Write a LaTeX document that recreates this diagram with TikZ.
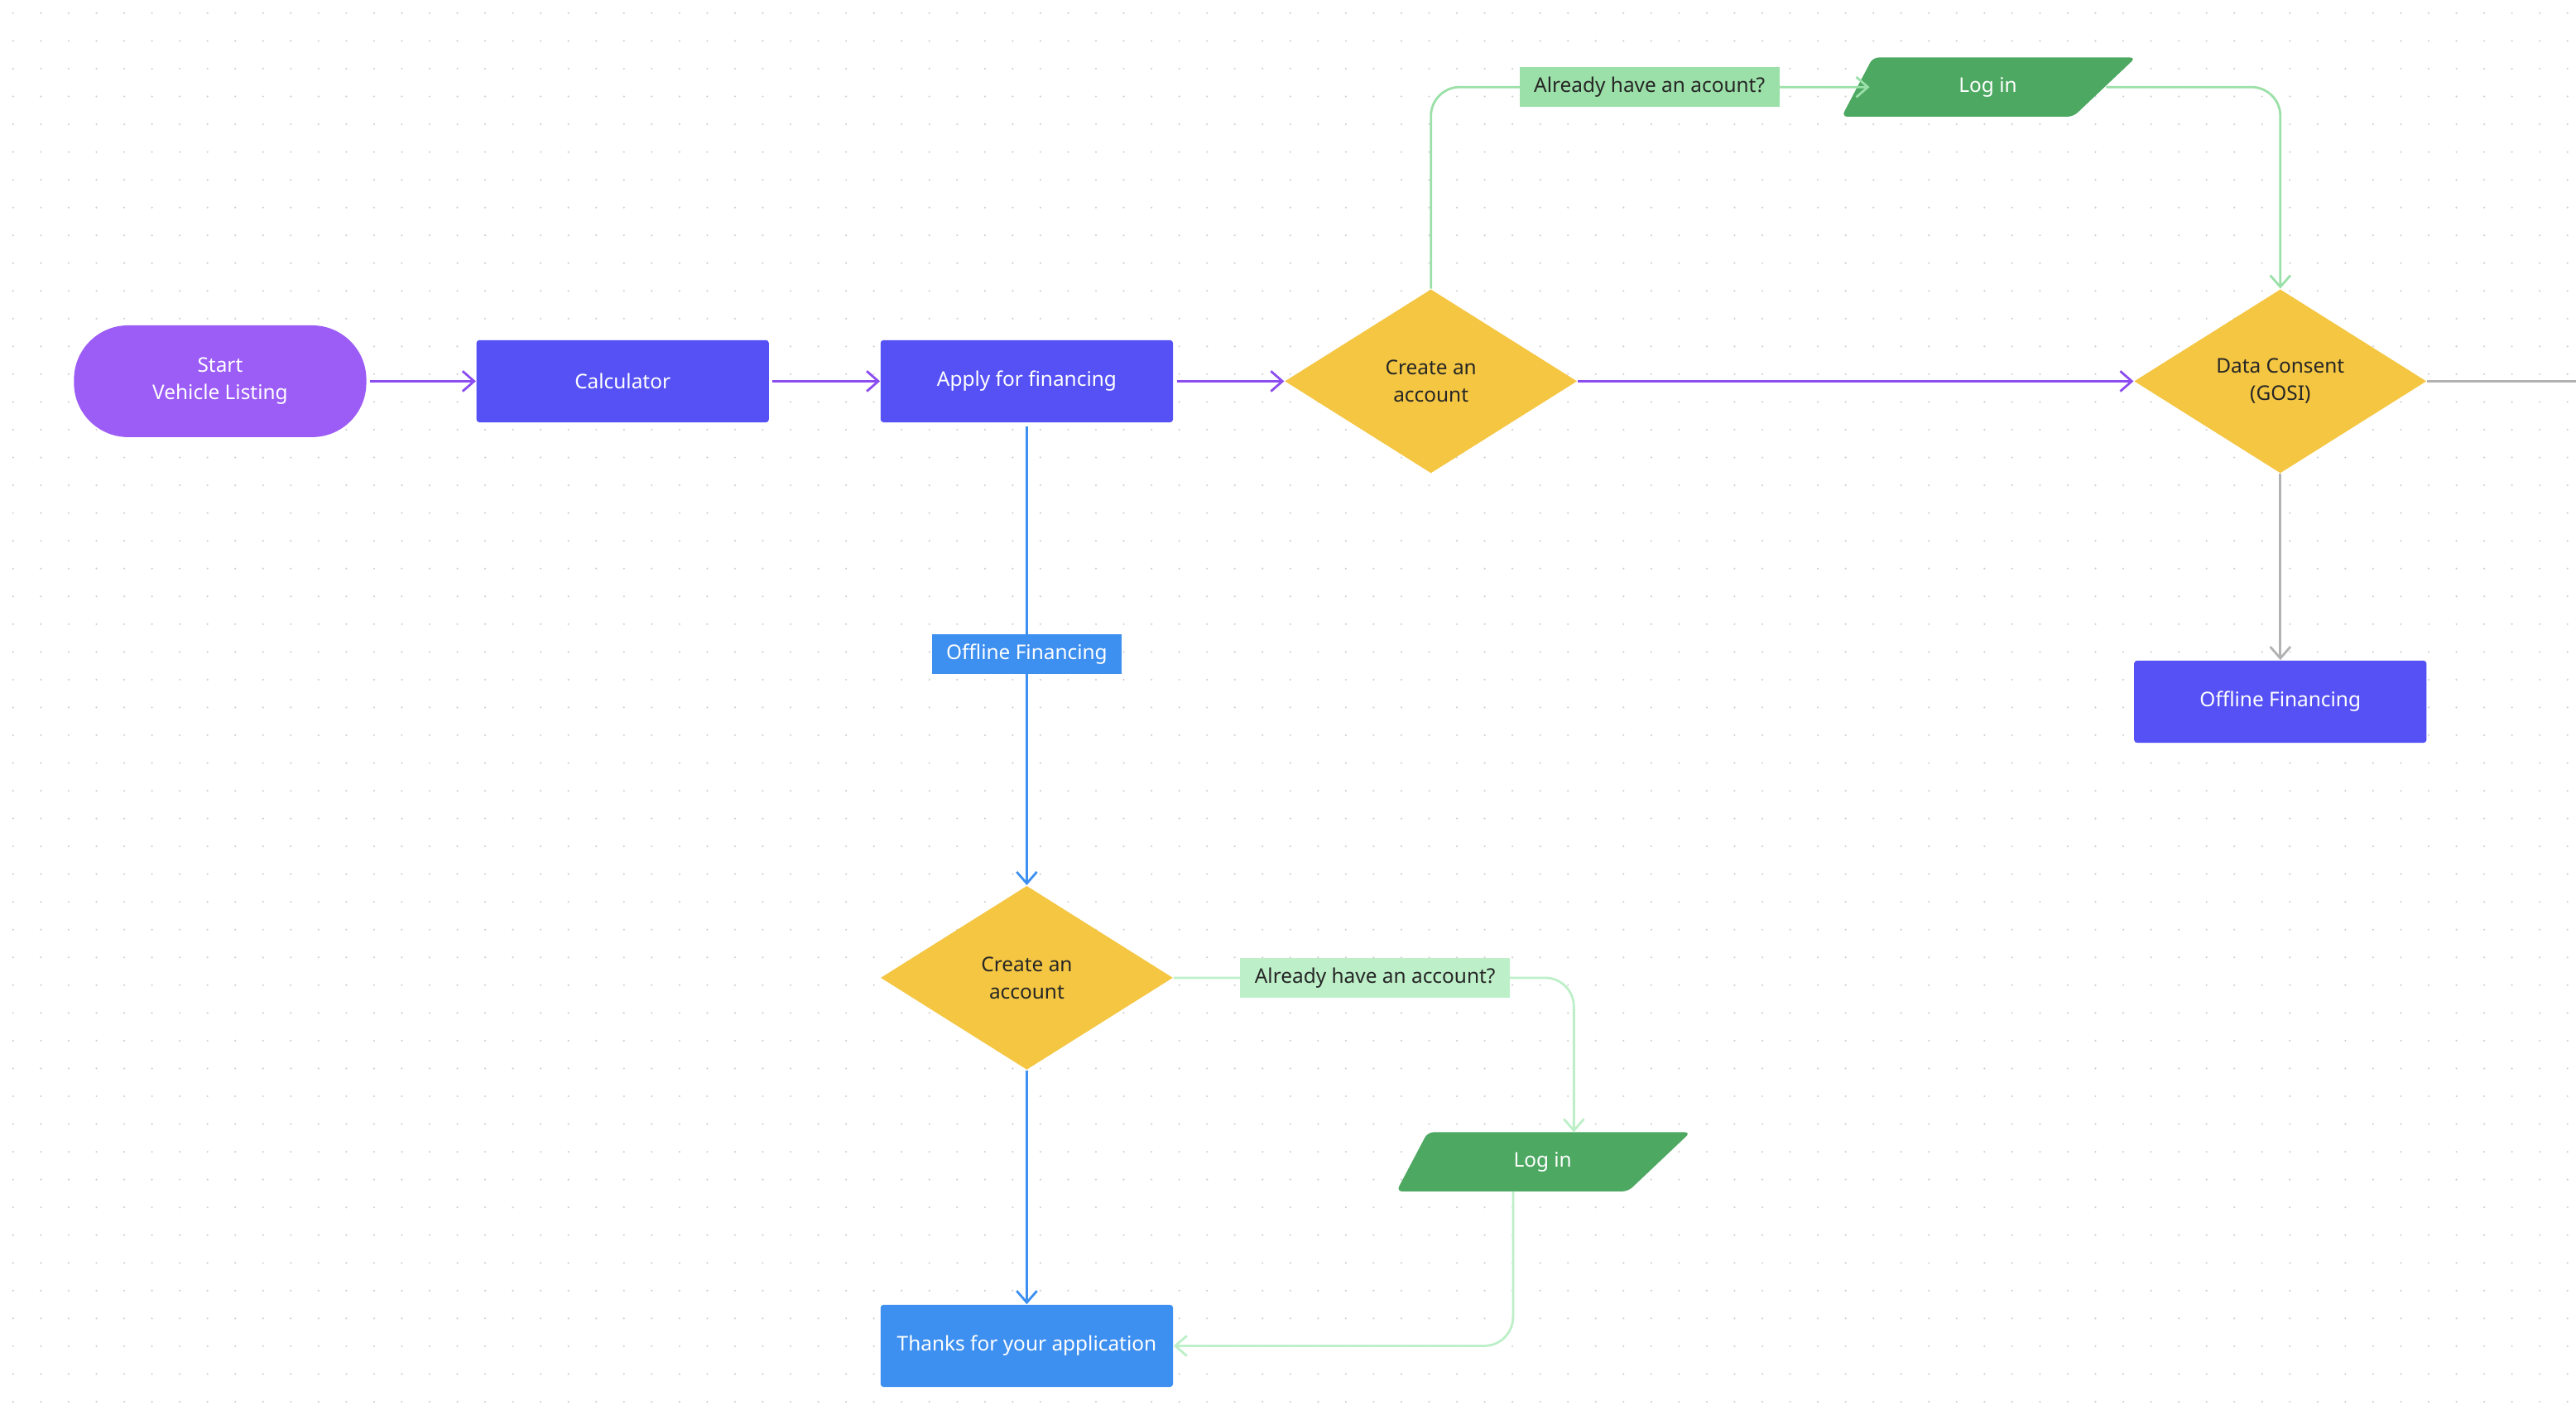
\documentclass[tikz,border=0pt]{standalone}
\usepackage{fontspec}
\setmainfont{Noto Sans}
\usetikzlibrary{shapes.geometric,arrows.meta}
\definecolor{purp}{HTML}{9C5CF6}
\definecolor{indi}{HTML}{5551F5}
\definecolor{blu}{HTML}{3D8FF0}
\definecolor{yel}{HTML}{F4C642}
\definecolor{grn}{HTML}{4DA862}
\definecolor{lg}{HTML}{9BE0A8}
\definecolor{llg}{HTML}{BDEFC8}
\definecolor{arrp}{HTML}{8B4CF0}
\begin{document}
\begin{tikzpicture}[x=0.02cm,y=-0.02cm,
  every node/.style={font=\fontsize{7}{9.5}\selectfont, align=center, inner sep=0pt},
  box/.style={rectangle, minimum width=3.56cm, minimum height=1cm, text=white, rounded corners=1pt},
  dia/.style={diamond, aspect=1.59, minimum width=3.56cm, minimum height=2.24cm, fill=yel, text=black!85},
  lab/.style={rectangle, minimum height=0.48cm, inner xsep=5pt},
  arr/.style={-{Straight Barb[length=4pt,width=7pt]}, line width=0.8pt},
  con/.style={line width=0.8pt}]
\useasboundingbox (0,0) rectangle (1568,864);
\fill[white] (0,0) rectangle (1568,864);
\foreach \i in {0,...,92}{\foreach \j in {0,...,50}{
  \fill[black!18] (8+16.9*\i,8+16.9*\j) circle (0.35pt);}}
% nodes
\node[box, fill=purp, minimum height=1.36cm, rounded corners=0.66cm] (start) at (134,232) {Start\\Vehicle Listing};
\node[box, fill=indi] (calc) at (379,232) {Calculator};
\node[box, fill=indi] (apply) at (625,232) {Apply for financing};
\node[dia] (create1) at (871,232) {Create an\\account};
\node[dia] (consent) at (1388,232) {Data Consent\\(GOSI)};
\node[box, fill=indi] (off2) at (1388,427) {Offline Financing};
\node[dia] (create2) at (625,595) {Create an\\account};
\node[box, fill=blu] (thanks) at (625,819) {Thanks for your application};
% parallelograms
\fill[grn, rounded corners=2pt] (1140,35) -- (1300,35) -- (1262,71) -- (1121,71) -- cycle;
\node[text=white, minimum width=3cm, minimum height=0.72cm] (login1) at (1210,53) {Log in};
\fill[grn, rounded corners=2pt] (869,689) -- (1029,689) -- (991,725) -- (850,725) -- cycle;
\node[text=white, minimum width=3cm, minimum height=0.72cm] (login2) at (939,707) {Log in};
\coordinate (l1w) at (1138,53);
\coordinate (l1e) at (1282,53);
\coordinate (l2n) at (958,689);
\coordinate (l2s) at (921,725);
\coordinate (edge) at (1568,232);
% edges
\draw[arr, arrp] (start.east) ++(2,0) -- (calc.west);
\draw[arr, arrp] (calc.east) ++(2,0) -- (apply.west);
\draw[arr, arrp] (apply.east) ++(2,0) -- (create1.west);
\draw[arr, arrp] (create1.east) -- (consent.west);
\draw[con, black!30] (consent.east) -- (edge);
\draw[arr, black!30] (consent.south) -- (off2.north);
\draw[arr, blu] (apply.south) ++(0,2) -- (create2.north);
\node[lab, fill=blu, text=white] (offl) at (625,398) {Offline Financing};
\draw[arr, blu] (create2.south) -- (thanks.north);
\draw[arr, lg, rounded corners=10pt] (create1.north) |- (l1w);
\node[lab, fill=lg, text=black!85] (q1) at (1004,53) {Already have an acount?};
\draw[arr, lg, rounded corners=10pt] (l1e) -| (consent.north);
\draw[arr, llg, rounded corners=10pt] (create2.east) -| (l2n);
\node[lab, fill=llg, text=black!85] (q2) at (837,595) {Already have an account?};
\draw[arr, llg, rounded corners=10pt] (l2s) |- (thanks.east);
\end{tikzpicture}
\end{document}
